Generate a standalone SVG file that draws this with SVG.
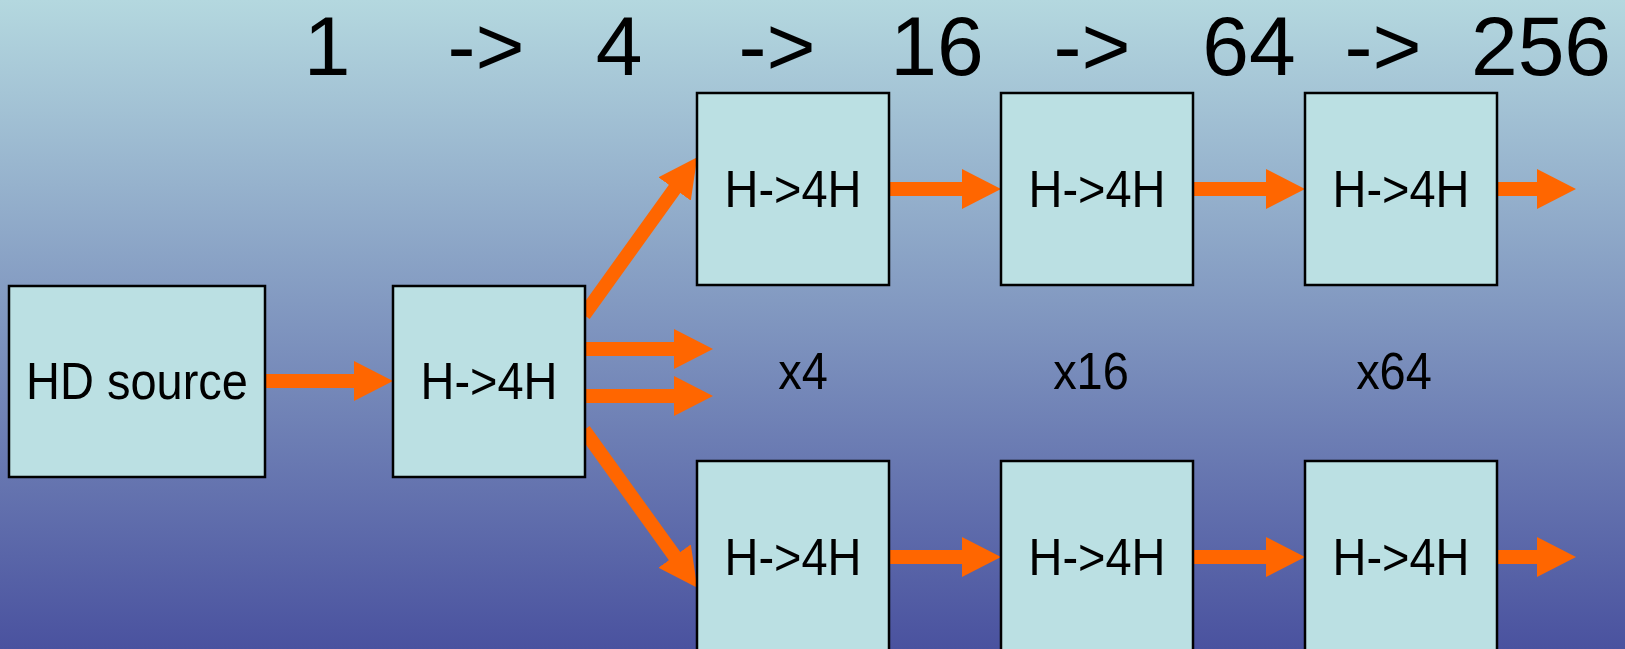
<svg xmlns="http://www.w3.org/2000/svg" width="1625" height="649" viewBox="0 0 1625 649">
<style>
.box{fill:#BBE0E3;stroke:#000;stroke-width:2.5}
.lbl{font-family:"Liberation Sans",Arial,sans-serif;font-size:47px;fill:#000;text-anchor:middle}
.big{font-family:"Liberation Sans",Arial,sans-serif;font-size:84px;fill:#000;text-anchor:middle}
.arr{stroke:#FF6600;stroke-width:14;fill:none;marker-end:url(#head)}
</style>
<defs>
<linearGradient id="bg" x1="0" y1="0" x2="0" y2="1">
<stop offset="0" stop-color="#B4D8DF"/>
<stop offset="1" stop-color="#4A529F"/>
</linearGradient>
<marker id="head" markerUnits="userSpaceOnUse" viewBox="0 0 39 40" markerWidth="39" markerHeight="40" refX="2" refY="20" orient="auto">
<path d="M0,0 L39,20 L0,40 Z" fill="#FF6600"/>
</marker>
</defs>
<rect x="0" y="0" width="1625" height="649" fill="url(#bg)"/>
<g id="title">
<text class="big" x="327" y="75">1</text>
<text class="big" x="486" y="75">-&gt;</text>
<text class="big" x="619" y="75">4</text>
<text class="big" x="777" y="75">-&gt;</text>
<text class="big" x="937" y="75">16</text>
<text class="big" x="1092" y="75">-&gt;</text>
<text class="big" x="1249" y="75">64</text>
<text class="big" x="1383" y="75">-&gt;</text>
<text class="big" x="1541" y="75">256</text>
</g>
<g id="connectors">
<line class="arr" x1="265" y1="381" x2="356" y2="381"/>
<line class="arr" x1="585" y1="349" x2="676" y2="349"/>
<line class="arr" x1="585" y1="396" x2="676" y2="396"/>
<line class="arr" x1="584" y1="315" x2="675.7" y2="187.3"/>
<line class="arr" x1="584" y1="430" x2="675.7" y2="557.7"/>
<line class="arr" x1="889" y1="189" x2="964" y2="189"/>
<line class="arr" x1="1193" y1="189" x2="1268" y2="189"/>
<line class="arr" x1="1497" y1="189" x2="1539" y2="189"/>
<line class="arr" x1="889" y1="557" x2="964" y2="557"/>
<line class="arr" x1="1193" y1="557" x2="1268" y2="557"/>
<line class="arr" x1="1497" y1="557" x2="1539" y2="557"/>
</g>
<g id="hd-source"><rect class="box" x="9" y="286" width="256" height="191"/><text class="lbl" transform="translate(137,399) scale(1,1.1)">HD source</text></g>
<g id="stage1"><rect class="box" x="393" y="286" width="192" height="191"/><text class="lbl" transform="translate(489,399) scale(1,1.1)">H-&gt;4H</text></g>
<g id="top2"><rect class="box" x="697" y="93" width="192" height="192"/><text class="lbl" transform="translate(793,207) scale(1,1.1)">H-&gt;4H</text></g>
<g id="top3"><rect class="box" x="1001" y="93" width="192" height="192"/><text class="lbl" transform="translate(1097,207) scale(1,1.1)">H-&gt;4H</text></g>
<g id="top4"><rect class="box" x="1305" y="93" width="192" height="192"/><text class="lbl" transform="translate(1401,207) scale(1,1.1)">H-&gt;4H</text></g>
<g id="bot2"><rect class="box" x="697" y="461" width="192" height="192"/><text class="lbl" transform="translate(793,575) scale(1,1.1)">H-&gt;4H</text></g>
<g id="bot3"><rect class="box" x="1001" y="461" width="192" height="192"/><text class="lbl" transform="translate(1097,575) scale(1,1.1)">H-&gt;4H</text></g>
<g id="bot4"><rect class="box" x="1305" y="461" width="192" height="192"/><text class="lbl" transform="translate(1401,575) scale(1,1.1)">H-&gt;4H</text></g>
<g id="counts">
<text class="lbl" transform="translate(803,389) scale(1,1.1)">x4</text>
<text class="lbl" transform="translate(1091,389) scale(1,1.1)">x16</text>
<text class="lbl" transform="translate(1394,389) scale(1,1.1)">x64</text>
</g>
</svg>
